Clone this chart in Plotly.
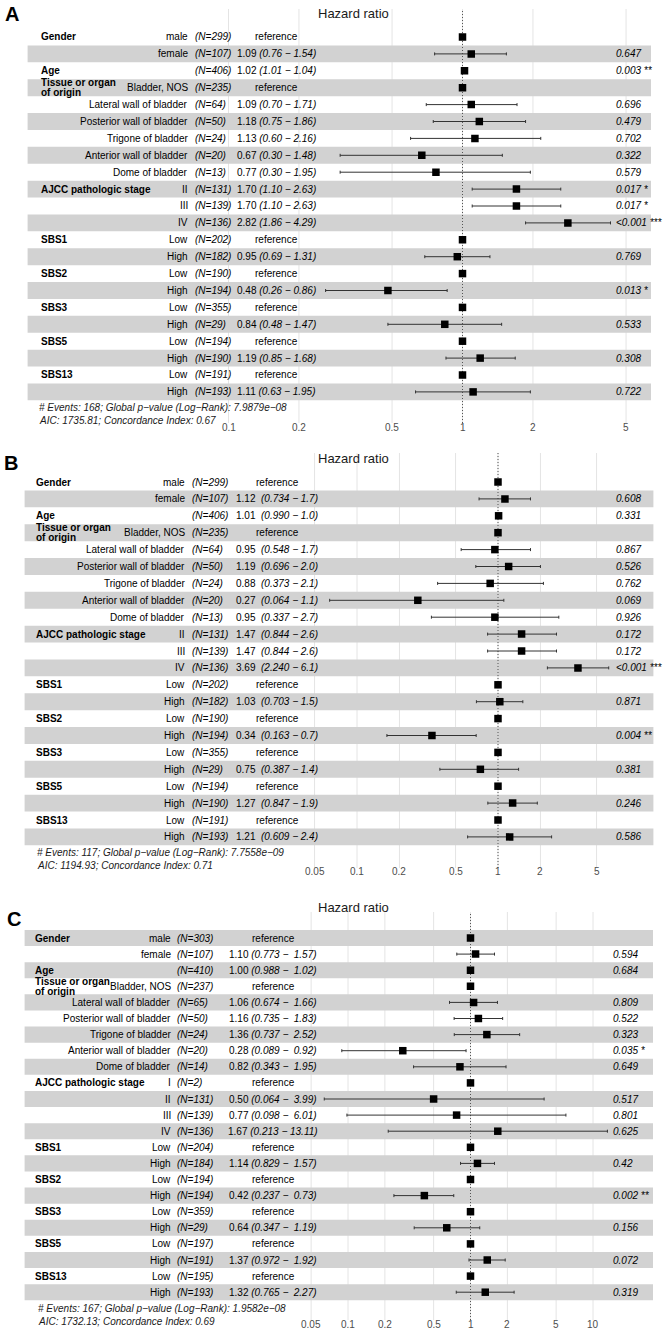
import math
import plotly.graph_objects as go

W, H = 666, 1335
FONT = "Liberation Sans, Arial, Helvetica, sans-serif"
NB = "\u00a0"

# ---------------- data ----------------
# Panel A
a_vars = ["Gender", "", "Age", "Tissue or organ\nof origin", "", "", "", "", "",
          "AJCC pathologic stage", "", "", "SBS1", "", "SBS2", "", "SBS3", "", "SBS5", "", "SBS13", ""]
a_levels = ["male", "female", "", "Bladder, NOS", "Lateral wall of bladder", "Posterior wall of bladder",
            "Trigone of bladder", "Anterior wall of bladder", "Dome of bladder", "II", "III", "IV",
            "Low", "High", "Low", "High", "Low", "High", "Low", "High", "Low", "High"]
a_n = [299, 107, 406, 235, 64, 50, 24, 20, 13, 131, 139, 136, 202, 182, 190, 194, 355, 29, 194, 190, 191, 193]
a_hr = [1, 1.09, 1.02, 1, 1.09, 1.18, 1.13, 0.67, 0.77, 1.70, 1.70, 2.82, 1, 0.95, 1, 0.48, 1, 0.84, 1, 1.19, 1, 1.11]
a_lo = [1, 0.76, 1.01, 1, 0.70, 0.75, 0.60, 0.30, 0.30, 1.10, 1.10, 1.86, 1, 0.69, 1, 0.26, 1, 0.48, 1, 0.85, 1, 0.63]
a_hi = [1, 1.54, 1.04, 1, 1.71, 1.86, 2.16, 1.48, 1.95, 2.63, 2.63, 4.29, 1, 1.31, 1, 0.86, 1, 1.47, 1, 1.68, 1, 1.95]
a_ci = ["", "(0.76 − 1.54)", "(1.01 − 1.04)", "", "(0.70 − 1.71)", "(0.75 − 1.86)", "(0.60 − 2.16)",
        "(0.30 − 1.48)", "(0.30 − 1.95)", "(1.10 − 2.63)", "(1.10 − 2.63)", "(1.86 − 4.29)", "",
        "(0.69 − 1.31)", "", "(0.26 − 0.86)", "", "(0.48 − 1.47)", "", "(0.85 − 1.68)", "", "(0.63 − 1.95)"]
a_p = ["", "0.647", "0.003 **", "", "0.696", "0.479", "0.702", "0.322", "0.579", "0.017 *", "0.017 *",
       "<0.001 ***", "", "0.769", "", "0.013 *", "", "0.533", "", "0.308", "", "0.722"]
a_notes = ["# Events: 168; Global p−value (Log−Rank): 7.9879e−08", "AIC: 1735.81; Concordance Index: 0.67"]
a_ticks = [0.1, 0.2, 0.5, 1, 2, 5]

# Panel B
b_vars = a_vars
b_levels = a_levels
b_n = [299, 107, 406, 235, 64, 50, 24, 20, 13, 131, 139, 136, 202, 182, 190, 194, 355, 29, 194, 190, 191, 193]
b_hr = [1, 1.12, 1.01, 1, 0.95, 1.19, 0.88, 0.27, 0.95, 1.47, 1.47, 3.69, 1, 1.03, 1, 0.34, 1, 0.75, 1, 1.27, 1, 1.21]
b_lo = [1, 0.734, 0.990, 1, 0.548, 0.696, 0.373, 0.064, 0.337, 0.844, 0.844, 2.240, 1, 0.703, 1, 0.163, 1, 0.387, 1, 0.847, 1, 0.609]
b_hi = [1, 1.7, 1.03, 1, 1.7, 2.0, 2.1, 1.1, 2.7, 2.6, 2.6, 6.1, 1, 1.5, 1, 0.7, 1, 1.4, 1, 1.9, 1, 2.4]
b_ci = ["", "(0.734 − 1.7)", "(0.990 − 1.0)", "", "(0.548 − 1.7)", "(0.696 − 2.0)", "(0.373 − 2.1)",
        "(0.064 − 1.1)", "(0.337 − 2.7)", "(0.844 − 2.6)", "(0.844 − 2.6)", "(2.240 − 6.1)", "",
        "(0.703 − 1.5)", "", "(0.163 − 0.7)", "", "(0.387 − 1.4)", "", "(0.847 − 1.9)", "", "(0.609 − 2.4)"]
b_p = ["", "0.608", "0.331", "", "0.867", "0.526", "0.762", "0.069", "0.926", "0.172", "0.172",
       "<0.001 ***", "", "0.871", "", "0.004 **", "", "0.381", "", "0.246", "", "0.586"]
b_notes = ["# Events: 117; Global p−value (Log−Rank): 7.7558e−09", "AIC: 1194.93; Concordance Index: 0.71"]
b_ticks = [0.05, 0.1, 0.2, 0.5, 1, 2, 5]

# Panel C
c_vars = ["Gender", "", "Age", "Tissue or organ\nof origin", "", "", "", "", "",
          "AJCC pathologic stage", "", "", "", "SBS1", "", "SBS2", "", "SBS3", "", "SBS5", "", "SBS13", ""]
c_levels = ["male", "female", "", "Bladder, NOS", "Lateral wall of bladder", "Posterior wall of bladder",
            "Trigone of bladder", "Anterior wall of bladder", "Dome of bladder", "I", "II", "III", "IV",
            "Low", "High", "Low", "High", "Low", "High", "Low", "High", "Low", "High"]
c_n = [303, 107, 410, 237, 65, 50, 24, 20, 14, 2, 131, 139, 136, 204, 184, 194, 194, 359, 29, 197, 191, 195, 193]
c_hr = [1, 1.10, 1.00, 1, 1.06, 1.16, 1.36, 0.28, 0.82, 1, 0.50, 0.77, 1.67, 1, 1.14, 1, 0.42, 1, 0.64, 1, 1.37, 1, 1.32]
c_lo = [1, 0.773, 0.988, 1, 0.674, 0.735, 0.737, 0.089, 0.343, 1, 0.064, 0.098, 0.213, 1, 0.829, 1, 0.237, 1, 0.347, 1, 0.972, 1, 0.765]
c_hi = [1, 1.57, 1.02, 1, 1.66, 1.83, 2.52, 0.92, 1.95, 1, 3.99, 6.01, 13.11, 1, 1.57, 1, 0.73, 1, 1.19, 1, 1.92, 1, 2.27]
c_ci = ["", "(0.773 −  1.57)", "(0.988 −  1.02)", "", "(0.674 −  1.66)", "(0.735 −  1.83)", "(0.737 −  2.52)",
        "(0.089 −  0.92)", "(0.343 −  1.95)", "", "(0.064 −  3.99)", "(0.098 −  6.01)", "(0.213 − 13.11)", "",
        "(0.829 −  1.57)", "", "(0.237 −  0.73)", "", "(0.347 −  1.19)", "", "(0.972 −  1.92)", "", "(0.765 −  2.27)"]
c_p = ["", "0.594", "0.684", "", "0.809", "0.522", "0.323", "0.035 *", "0.649", "", "0.517", "0.801", "0.625",
       "", "0.42", "", "0.002 **", "", "0.156", "", "0.072", "", "0.319"]
c_notes = ["# Events: 167; Global p−value (Log−Rank): 1.9582e−08", "AIC: 1732.13; Concordance Index: 0.69"]
c_ticks = [0.05, 0.1, 0.2, 0.5, 1, 2, 5, 10]

# ---------------- layout geometry (pixels) ----------------
panels = [
    dict(letter="A", vars=a_vars, levels=a_levels, n=a_n, hr=a_hr, lo=a_lo, hi=a_hi, ci=a_ci, p=a_p,
         notes=a_notes, ticks=a_ticks, est_sep=" ",
         left=27.6, right=651, top=9, bottom=423, first=37, pitch=16.9, one=462.5, dec=234,
         var_x=39, lev_x=189.5, n_x=193, est_x=276, p_x=614, note_x=37, note_y=(407, 420), tick_y=427,
         title_y=13, letter_x=3, letter_y=14),
    dict(letter="B", vars=b_vars, levels=b_levels, n=b_n, hr=b_hr, lo=b_lo, hi=b_hi, ci=b_ci, p=b_p,
         notes=b_notes, ticks=b_ticks, est_sep=NB + NB,
         left=24.6, right=653.4, top=453, bottom=868, first=482, pitch=16.9, one=498, dec=141,
         var_x=34, lev_x=186.7, n_x=189.6, est_x=277, p_x=614, note_x=35, note_y=(852, 865), tick_y=872,
         title_y=458, letter_x=2, letter_y=463),
    dict(letter="C", vars=c_vars, levels=c_levels, n=c_n, hr=c_hr, lo=c_lo, hi=c_hi, ci=c_ci, p=c_p,
         notes=c_notes, ticks=c_ticks, est_sep=" ",
         left=24.6, right=653, top=912, bottom=1320, first=938, pitch=16.1, one=470.5, dec=122.5,
         var_x=33, lev_x=172.5, n_x=174.5, est_x=273, p_x=611, note_x=36, note_y=(1308, 1321), tick_y=1324,
         title_y=907, letter_x=5, letter_y=918.5),
]

fig = go.Figure()
shapes = []
annotations = []
layout_axes = {}


def fx(px):
    return px / W


def fy(py):
    return 1 - py / H


for k, P in enumerate(panels):
    sfx = "" if k == 0 else str(k + 1)
    xa, ya = "x" + sfx, "y" + sfx
    N = len(P["hr"])
    pos = [N - i for i in range(N)]

    def y_at(px, P=P, N=N):
        return N - (px - P["first"]) / P["pitch"]

    xrange = [(P["left"] - P["one"]) / P["dec"], (P["right"] - P["one"]) / P["dec"]]
    layout_axes["xaxis" + sfx] = dict(
        type="log", range=xrange, domain=[fx(P["left"]), fx(P["right"])], anchor=ya,
        showgrid=False, zeroline=False, showline=False, showticklabels=False,
        ticks="", fixedrange=True)
    layout_axes["yaxis" + sfx] = dict(
        range=[y_at(P["bottom"]), y_at(P["top"])], domain=[fy(P["bottom"]), fy(P["top"])], anchor=xa,
        showgrid=False, zeroline=False, showticklabels=False, showline=False, ticks="", fixedrange=True)

    # vertical grid lines at the axis breaks + tick labels
    for t in P["ticks"]:
        shapes.append(dict(type="line", xref=xa, x0=t, x1=t, yref=ya + " domain", y0=0, y1=1,
                           line=dict(color="#e4e4e4", width=1), layer="below"))
        annotations.append(dict(showarrow=False, xref=xa, x=math.log10(t), yref="paper", y=fy(P["tick_y"]),
                                text=f"{t:g}", xanchor="center", yanchor="middle",
                                font=dict(family=FONT, size=10, color="#4d4d4d")))
    # alternating row bands (bottom row shaded)
    for yy in pos:
        if yy % 2 == 1:
            shapes.append(dict(type="rect", xref=xa + " domain", x0=0, x1=1, yref=ya,
                               y0=yy - 0.5, y1=yy + 0.5, fillcolor="#d2d2d2",
                               line=dict(width=0), layer="below"))
    # dotted reference line at HR = 1
    shapes.append(dict(type="line", xref=xa, x0=1, x1=1, yref=ya + " domain", y0=0, y1=1,
                       line=dict(color="#555555", width=1, dash="1px,2px"), layer="below"))

    # estimates with CI
    fig.add_trace(go.Scatter(
        x=P["hr"], y=pos, xaxis=xa, yaxis=ya, mode="markers",
        marker=dict(symbol="square", size=7.5, color="black"),
        error_x=dict(type="data", symmetric=False,
                     array=[h - m for h, m in zip(P["hi"], P["hr"])],
                     arrayminus=[m - l for m, l in zip(P["hr"], P["lo"])],
                     color="#333333", thickness=1, width=1.5),
        hoverinfo="skip", showlegend=False))

    base = dict(showarrow=False, yref=ya, xref="paper",
                font=dict(family=FONT, size=10, color="black"))
    for i in range(N):
        yy = pos[i]
        v = P["vars"][i]
        if v:
            lines = v.split("\n")
            for j, ln in enumerate(lines):
                shift = 0 if len(lines) == 1 else 5 - 10 * j
                annotations.append(dict(base, x=fx(P["var_x"]), y=yy, text="<b>" + ln + "</b>",
                                        xanchor="left", yanchor="middle", yshift=shift))
        if P["levels"][i]:
            annotations.append(dict(base, x=fx(P["lev_x"]), y=yy, text=P["levels"][i],
                                    xanchor="right", yanchor="middle"))
        annotations.append(dict(base, x=fx(P["n_x"]), y=yy, text=f"<i>(N={P['n'][i]})</i>",
                                xanchor="left", yanchor="middle"))
        if P["ci"][i]:
            est = f"{P['hr'][i]:.2f}" + P["est_sep"] + "<i>" + P["ci"][i].replace("  ", NB + NB) + "</i>"
        else:
            est = "reference"
        annotations.append(dict(base, x=fx(P["est_x"]), y=yy, text=est,
                                xanchor="center", yanchor="middle"))
        if P["p"][i]:
            ptxt = P["p"][i].replace("<", "&lt;")
            annotations.append(dict(base, x=fx(P["p_x"]), y=yy, text="<i>" + ptxt + "</i>",
                                    xanchor="left", yanchor="middle"))

    # footnotes
    for note, ny in zip(P["notes"], P["note_y"]):
        annotations.append(dict(showarrow=False, xref="paper", yref="paper", x=fx(P["note_x"]), y=fy(ny),
                                text="<i>" + note + "</i>", xanchor="left", yanchor="middle",
                                font=dict(family=FONT, size=10, color="#1a1a1a")))
    # title
    annotations.append(dict(showarrow=False, xref="paper", yref="paper", x=fx(353), y=fy(P["title_y"]),
                            text="Hazard ratio", xanchor="center", yanchor="middle",
                            font=dict(family=FONT, size=13, color="#1a1a1a")))
    # panel letter
    annotations.append(dict(showarrow=False, xref="paper", yref="paper", x=fx(P["letter_x"]),
                            y=fy(P["letter_y"]), text="<b>" + P["letter"] + "</b>",
                            xanchor="left", yanchor="middle",
                            font=dict(family=FONT, size=20, color="black")))

fig.update_layout(
    width=W, height=H, margin=dict(l=0, r=0, t=0, b=0),
    paper_bgcolor="white", plot_bgcolor="white",
    shapes=shapes, annotations=annotations, showlegend=False,
    **layout_axes)

fig.write_html("out.html", config={"displayModeBar": False},
               post_script="document.body.style.margin='0';")
